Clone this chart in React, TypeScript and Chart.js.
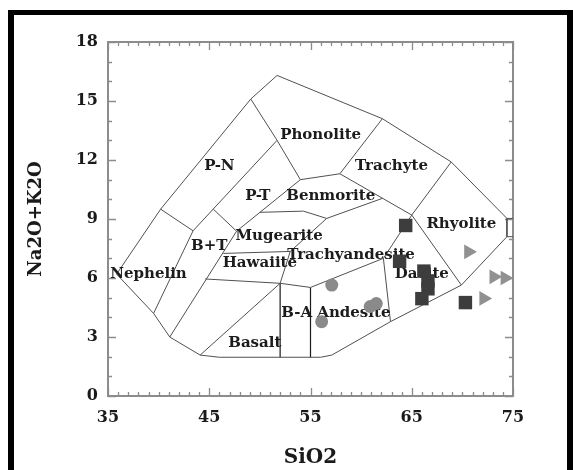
import React, { useEffect, useRef } from "react";
import { Chart, registerables } from "chart.js";

Chart.register(...registerables);

// ---- axes ----
const xRange = [35, 75];
const yRange = [0, 18];
const xTickStep = 10;
const yTickStep = 3;
const xTitle = "SiO2";
const yTitle = "Na2O+K2O";

// ---- sample groups (SiO2, Na2O+K2O) ----
const squareSamples = [
  [64.4, 8.67], [63.8, 6.85], [66.2, 6.35], [66.6, 5.85], [66.6, 5.45], [66.0, 4.95], [70.3, 4.75],
];
const circleSamples = [
  [57.1, 5.64], [56.1, 3.78], [60.9, 4.55], [61.5, 4.7],
];
const triangleSamples = [
  [70.6, 7.33], [73.1, 6.06], [74.2, 6.0], [72.1, 4.96],
];

// ---- TAS field boundaries ----
const outline = [
  [44.1, 2.08], [41.1, 3.0], [39.5, 4.2], [35.85, 6.2], [40.2, 9.5], [49.1, 15.1], [51.7, 16.3],
  [62.1, 14.1], [68.9, 11.9], [74.4, 9.03], [74.4, 8.1], [69.9, 5.64], [62.9, 3.78],
  [57.1, 2.08], [56.0, 1.97], [46.0, 1.97], [44.1, 2.08],
];
const boxTop = [[74.4, 9.03], [75, 9.03]];
const boxBottom = [[74.4, 8.1], [75, 8.1]];
const pnCap = [[40.2, 9.5], [43.4, 8.4]];
const pnInner = [[51.7, 13.0], [43.4, 8.4]];
const nephBT = [[43.4, 8.4], [39.5, 4.2]];
const phonoLeft = [[49.1, 15.1], [51.7, 13.0], [54.0, 11.0]];
const phonoBottom = [[54.0, 11.0], [57.9, 11.3]];
const phonoTrach = [[57.9, 11.3], [62.1, 14.1]];
const trachBottom = [[57.9, 11.3], [65.0, 9.2]];
const trachRhyo = [[65.0, 9.2], [68.9, 11.9]];
const rhyoDac = [[65.0, 9.2], [69.9, 5.64]];
const dacTrachy = [[65.0, 9.2], [62.2, 7.0]];
const andDac = [[62.2, 7.0], [62.9, 3.78]];
const trachyBottom = [[62.2, 7.0], [55.0, 5.52]];
const baTop = [[52.0, 5.73], [55.0, 5.52]];
const hawBottom = [[44.6, 5.95], [52.0, 5.73]];
const basaltDiag = [[44.1, 2.08], [52.0, 5.73]];
const ptLower = [[54.0, 11.0], [47.7, 8.38], [41.1, 3.0]];
const ptBT = [[45.4, 9.5], [47.7, 8.38]];
const benBottom = [[62.1, 10.05], [56.6, 9.03]];
const mugTop = [[50.0, 9.34], [54.3, 9.4], [56.6, 9.03]];
const trachyLeft = [[56.6, 9.03], [53.0, 7.35], [52.0, 5.73]];
const mugHaw = [[46.4, 7.25], [53.0, 7.35]];
const vert52 = [[52.0, 5.73], [52.0, 1.97]];
const vert55 = [[55.0, 5.52], [55.0, 1.97]];

const thinLines = [
  outline, boxTop, boxBottom, pnCap, pnInner, nephBT, phonoLeft, phonoBottom, phonoTrach,
  trachBottom, trachRhyo, rhyoDac, dacTrachy, andDac, trachyBottom, baTop, hawBottom,
  basaltDiag, ptLower, ptBT, benBottom, mugTop, trachyLeft, mugHaw,
];
const darkLines = [vert52, vert55];

// ---- field names ----
const fieldNames = [
  "Phonolite", "P-N", "Trachyte", "P-T", "Benmorite", "Rhyolite", "Mugearite", "B+T",
  "Trachyandesite", "Hawaiite", "Nephelin", "Dacite", "B-A Andesite", "Basalt",
];
const fieldX = [56.0, 46.0, 63.0, 49.8, 57.0, 69.9, 51.9, 45.0, 59.0, 50.0, 39.0, 66.0, 57.5, 49.5];
const fieldY = [13.26, 11.7, 11.7, 10.16, 10.16, 8.72, 8.15, 7.64, 7.16, 6.74, 6.2, 6.2, 4.2, 2.71];

const toXY = (arr: number[][]) => arr.map(([x, y]) => ({ x, y }));

const tasPlugin = {
  id: "tasDecor",
  beforeDatasetsDraw(chart: any) {
    chart.$labelsDone = false;
    const { ctx, chartArea: a, scales } = chart;
    const xs = scales.x;
    const ys = scales.y;
    ctx.save();
    ctx.strokeStyle = "#8c8c8c";
    ctx.lineWidth = 2;
    ctx.strokeRect(a.left, a.top, a.right - a.left, a.bottom - a.top);
    ctx.lineWidth = 1.3;
    ctx.beginPath();
    for (let v = xRange[0]; v <= xRange[1]; v++) {
      const px = Math.round(xs.getPixelForValue(v)) + 0.5;
      const len = (v - xRange[0]) % xTickStep === 0 ? 8 : 4;
      ctx.moveTo(px, a.bottom);
      ctx.lineTo(px, a.bottom - len);
      ctx.moveTo(px, a.top);
      ctx.lineTo(px, a.top + len);
    }
    for (let v = yRange[0]; v <= yRange[1]; v++) {
      const py = Math.round(ys.getPixelForValue(v)) + 0.5;
      const len = v % yTickStep === 0 ? 8 : 4;
      ctx.moveTo(a.left, py);
      ctx.lineTo(a.left + len, py);
      ctx.moveTo(a.right, py);
      ctx.lineTo(a.right - len, py);
    }
    ctx.stroke();
    ctx.restore();
  },
  beforeDatasetDraw(chart: any, args: any) {
    const ds = chart.data.datasets[args.index];
    if (!ds.isMarker || chart.$labelsDone) return;
    chart.$labelsDone = true;
    const { ctx, scales } = chart;
    ctx.save();
    ctx.font = 'bold 15px "DejaVu Serif"';
    ctx.fillStyle = "#1c1c1c";
    ctx.textAlign = "center";
    ctx.textBaseline = "middle";
    fieldNames.forEach((name, i) => {
      ctx.fillText(name, scales.x.getPixelForValue(fieldX[i]), scales.y.getPixelForValue(fieldY[i]));
    });
    ctx.restore();
  },
};

export default function App() {
  const ref = useRef<HTMLCanvasElement | null>(null);

  useEffect(() => {
    if (!ref.current) return;
    const datasets: any[] = [
      {
        data: toXY(squareSamples),
        isMarker: true,
        order: 0,
        pointStyle: "rect",
        pointRadius: 9.5,
        backgroundColor: "#3d3d3d",
        borderWidth: 0,
        clip: false,
      },
      {
        data: toXY(circleSamples),
        isMarker: true,
        order: 0,
        pointStyle: "circle",
        pointRadius: 6.5,
        backgroundColor: "#8a8a8a",
        borderWidth: 0,
        clip: false,
      },
      {
        data: toXY(triangleSamples),
        isMarker: true,
        order: 0,
        pointStyle: "triangle",
        pointRotation: 90,
        pointRadius: 8.5,
        backgroundColor: "#919191",
        borderWidth: 0,
        clip: false,
      },
      ...thinLines.map((l) => ({
        data: toXY(l),
        order: 1,
        showLine: true,
        pointRadius: 0,
        borderColor: "#505050",
        borderWidth: 1,
        fill: false,
        clip: false,
      })),
      ...darkLines.map((l) => ({
        data: toXY(l),
        order: 1,
        showLine: true,
        pointRadius: 0,
        borderColor: "#1a1a1a",
        borderWidth: 1.2,
        fill: false,
        clip: false,
      })),
    ];

    const chart = new Chart(ref.current, {
      type: "scatter",
      data: { datasets },
      options: {
        animation: false,
        responsive: false,
        devicePixelRatio: 1,
        events: [],
        layout: { padding: { left: 0, right: 54, top: 27, bottom: 0 } },
        plugins: { legend: { display: false }, tooltip: { enabled: false } },
        scales: {
          x: {
            type: "linear",
            min: xRange[0],
            max: xRange[1],
            grid: { display: false, drawTicks: false },
            border: { display: false },
            ticks: {
              stepSize: xTickStep,
              maxRotation: 0,
              padding: 12,
              color: "#1a1a1a",
              font: { family: "DejaVu Serif", weight: "bold", size: 16 },
            },
            title: {
              display: true,
              text: xTitle,
              color: "#1a1a1a",
              padding: { top: 0, bottom: 0 },
              font: { family: "DejaVu Serif", weight: "bold", size: 20 },
            },
            afterFit: (s: any) => {
              s.height = 74;
            },
          },
          y: {
            type: "linear",
            min: yRange[0],
            max: yRange[1],
            grid: { display: false, drawTicks: false },
            border: { display: false },
            ticks: {
              stepSize: yTickStep,
              padding: 10,
              color: "#1a1a1a",
              font: { family: "DejaVu Serif", weight: "bold", size: 16 },
            },
            title: {
              display: true,
              text: yTitle,
              color: "#1a1a1a",
              padding: { top: 12, bottom: 0 },
              font: { family: "DejaVu Serif", weight: "bold", size: 18 },
            },
            afterFit: (s: any) => {
              s.width = 94;
            },
          },
        },
      } as any,
      plugins: [tasPlugin as any],
    });
    return () => chart.destroy();
  }, []);

  return (
    <div
      style={{
        position: "fixed",
        left: 8,
        top: 10,
        width: 565,
        height: 470,
        boxSizing: "border-box",
        borderLeft: "6px solid #000",
        borderTop: "5px solid #000",
        borderRight: "6px solid #000",
        background: "#fff",
      }}
    >
      <canvas ref={ref} width={553} height={455} style={{ display: "block", width: 553, height: 455 }} />
    </div>
  );
}
